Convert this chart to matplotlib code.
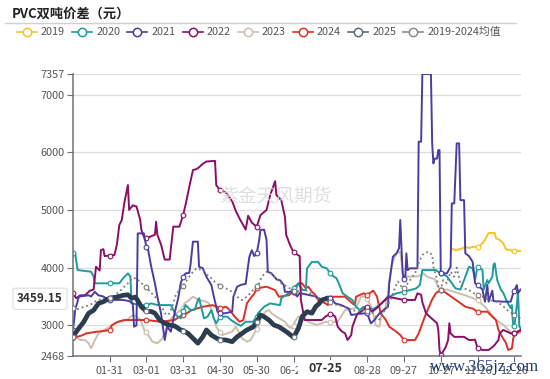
import numpy as np
import pandas as pd
import matplotlib.pyplot as plt
from matplotlib.lines import Line2D
from matplotlib.patches import Rectangle

plt.rcParams['font.family'] = ['Noto Sans CJK SC', 'DejaVu Sans']

# category axis: one slot per calendar day (leap year, 366 slots)
categories = pd.date_range('2024-01-01', '2024-12-31').strftime('%m-%d').tolist()

# values, (day index, value)
days_2019 = [309, 312, 317, 320, 323, 326, 330, 333, 336, 338, 339, 344, 345, 348, 351, 353, 357, 360, 365]
vals_2019 = [4330, 4300, 4330, 4360, 4340, 4360, 4362, 4400, 4478, 4565, 4600, 4600, 4510, 4480, 4420, 4320, 4300, 4290, 4290]

days_2020 = [0, 2, 3, 4, 15, 17, 18, 30, 38, 41, 45, 47, 48, 56, 60, 64, 69, 80, 84, 88, 90, 92, 96, 99, 100, 102,
             103, 106, 107, 110, 113, 115, 117, 120, 126, 129, 133, 137, 141, 147, 150, 151, 156, 161, 169, 170, 176,
             180, 181, 184, 187, 190, 191, 195, 200, 203, 207, 210, 211, 215, 218, 220, 224, 228, 231, 234, 237, 240,
             245, 250, 258, 264, 270, 280, 283, 285, 296, 300, 305, 308, 312, 316, 319, 323, 326, 328, 330, 334, 335,
             338, 339, 342, 343, 344, 346, 349, 351, 354, 357, 358, 359, 360, 362, 363, 364, 365]
vals_2020 = [4248, 4248, 4100, 3958, 3929, 3850, 3728, 3728, 3728, 3815, 3900, 3850, 3380, 3350, 3352, 3380, 3352,
             3350, 3180, 3120, 3250, 3352, 3265, 3265, 3300, 3438, 3470, 3208, 3120, 3150, 3265, 3120, 3035, 3150,
             3150, 3092, 3035, 2990, 3062, 3062, 3150, 3208, 3322, 3380, 3350, 3470, 3555, 3640, 3670, 3728, 3611,
             3611, 3988, 4100, 4100, 4015, 3988, 3900, 3872, 3815, 3670, 3555, 3496, 3438, 3322, 3265, 3322, 3300,
             3280, 3350, 3495, 3555, 3582, 3640, 3700, 3958, 3958, 3900, 3850, 3760, 3640, 3620, 3785, 4015, 3990,
             3800, 4015, 3960, 3620, 3785, 3730, 3840, 4050, 4074, 3785, 3620, 3560, 3409, 3300, 3350, 3005, 2980,
             3350, 3600, 2980, 2950]

days_2021 = [0, 1, 2, 5, 9, 13, 15, 18, 21, 25, 29, 30, 41, 46, 49, 50, 52, 53, 58, 60, 61, 64, 67, 69, 72, 75, 77,
             80, 83, 86, 88, 90, 92, 95, 96, 98, 102, 103, 106, 109, 113, 115, 118, 120, 124, 130, 131, 134, 137, 141,
             144, 146, 148, 150, 152, 153, 156, 158, 159, 162, 166, 169, 172, 173, 179, 180, 183, 185, 198, 203, 208,
             210, 214, 219, 225, 227, 234, 240, 243, 246, 250, 257, 258, 261, 264, 266, 267, 268, 269, 270, 271, 272,
             273, 275, 281, 282, 284, 285, 292, 293, 294, 295, 297, 298, 299, 300, 305, 308, 309, 311, 313, 315, 316,
             319, 320, 323, 326, 328, 330, 334, 336, 338, 339, 342, 343, 351, 357, 359, 360, 362, 363, 365]
vals_2021 = [2920, 3050, 3265, 3496, 3510, 3520, 3500, 3580, 3520, 3500, 3440, 3440, 3440, 3420, 3380, 2976, 3000,
             4594, 4594, 4362, 4362, 4015, 3728, 3496, 3208, 2745, 2980, 2890, 3208, 3470, 3728, 3842, 3900, 3910,
             4045, 4450, 4450, 4015, 3990, 3840, 3700, 3500, 3236, 3208, 3208, 3236, 3496, 3669, 3700, 3720, 4189,
             4300, 4200, 4248, 4478, 4652, 4660, 4480, 3929, 3900, 3800, 3780, 3700, 3580, 3580, 3570, 3500, 3560,
             3500, 3440, 3500, 3480, 3380, 3350, 3290, 3180, 3200, 3210, 3035, 3092, 3208, 3323, 3728, 4190, 4250,
             4335, 4825, 4335, 3900, 3800, 3785, 4248, 3958, 3988, 3988, 6183, 6183, 7357, 7357, 6154, 5807, 5890,
             5890, 6038, 6038, 3900, 3900, 4015, 5114, 5114, 6154, 6154, 5170, 5170, 4248, 4200, 4100, 3728, 3700,
             3620, 3409, 3700, 3409, 3600, 3420, 3410, 3410, 3555, 3600, 3698, 3560, 3620]

days_2022 = [0, 3, 6, 10, 14, 17, 19, 22, 23, 25, 26, 30, 34, 36, 38, 40, 42, 45, 46, 49, 52, 55, 56, 58, 60, 67,
             68, 69, 72, 75, 79, 82, 87, 90, 92, 95, 98, 101, 103, 106, 109, 116, 117, 120, 125, 130, 133, 136, 141,
             143, 146, 150, 153, 158, 161, 165, 166, 170, 173, 174, 177, 180, 185, 186, 189, 203, 206, 210, 211, 214,
             216, 219, 222, 224, 227, 228, 230, 232, 235, 238, 240, 244, 248, 257, 270, 279, 281, 284, 285, 288, 294,
             297, 298, 299, 300, 304, 306, 307, 308, 311, 319, 323, 328, 330, 334, 339, 342, 344, 347, 348, 351, 357,
             360, 365]
vals_2022 = [3555, 3470, 3520, 3520, 3600, 3620, 4015, 3950, 4305, 4320, 4200, 4210, 4220, 4400, 4740, 4825, 5114,
             5432, 5000, 5080, 5060, 4830, 4652, 4535, 4510, 4570, 4795, 4570, 4400, 4140, 4140, 4710, 4710, 4912,
             5090, 5400, 5690, 5710, 5740, 5800, 5840, 5850, 5430, 5345, 5300, 5150, 4980, 4850, 4660, 4900, 4780,
             4710, 4910, 5000, 5260, 5500, 5260, 5170, 4880, 4570, 4400, 4265, 4200, 3440, 3092, 3092, 3150, 3200,
             3200, 3150, 2976, 2900, 2860, 2745, 2830, 2976, 3092, 3200, 3236, 3290, 3320, 3236, 3300, 3496, 3440,
             3440, 3555, 3530, 3400, 3208, 3092, 3035, 2920, 2573, 2480, 2620, 2745, 3035, 2860, 2800, 2800, 2745,
             2750, 2600, 2573, 2573, 2620, 2660, 2745, 2860, 2920, 2860, 2860, 2920]

days_2023 = [0, 3, 6, 10, 13, 15, 18, 21, 28, 30, 36, 44, 49, 52, 55, 59, 60, 65, 69, 72, 75, 78, 83, 88, 90, 91,
             95, 98, 103, 109, 111, 114, 117, 120, 122, 130, 133, 136, 138, 142, 145, 148, 150, 151, 154, 157, 160,
             162, 166, 173, 176, 179, 180, 181, 184, 187, 192, 199, 206, 210, 216, 222, 231, 235, 239, 240, 244, 247,
             250, 252, 255, 257, 258, 260, 262, 264, 267, 268, 269, 270, 282, 286, 289, 295, 298, 300, 305, 320, 330,
             336, 341, 345, 351, 358, 360, 365]
vals_2023 = [2890, 2800, 2745, 2745, 2690, 2600, 2740, 2860, 2948, 2960, 3062, 3090, 3180, 3150, 3100, 2890, 2880,
             2716, 2690, 2745, 2860, 3062, 3180, 3265, 3300, 3380, 3438, 3496, 3440, 3410, 3380, 3208, 2976, 2880,
             2832, 2890, 2976, 2860, 2775, 2716, 2745, 2860, 2940, 2976, 3150, 3236, 3265, 3208, 3150, 3062, 2976,
             2948, 2990, 3062, 3150, 3150, 3060, 3005, 3060, 3060, 3060, 3265, 3300, 3496, 3496, 3450, 3300, 3000,
             2976, 3208, 3320, 3555, 3756, 4045, 4160, 4250, 4275, 4100, 3900, 3842, 3850, 3900, 3840, 3800, 3670,
             3611, 3620, 3520, 3440, 3322, 3200, 3092, 3010, 2860, 2860, 2860]

days_2024 = [0, 1, 3, 7, 11, 20, 25, 30, 32, 37, 42, 60, 72, 83, 87, 90, 93, 97, 106, 114, 120, 125, 128, 132, 136,
             139, 142, 145, 148, 150, 158, 165, 168, 176, 180, 181, 184, 187, 190, 192, 195, 198, 200, 206, 208, 210,
             211, 222, 225, 228, 230, 231, 237, 240, 245, 248, 251, 255, 258, 263, 267, 270, 279, 282, 284, 287, 290,
             293, 296, 300, 305, 315, 320, 326, 330, 338, 342, 345, 347, 350, 353, 355, 358, 359, 360, 365]
vals_2024 = [2800, 2745, 2800, 2820, 2860, 2890, 2900, 2920, 3005, 3060, 3092, 3092, 3062, 3092, 3150, 3180, 3208,
             3265, 3322, 3350, 3300, 3322, 3265, 3150, 3062, 3090, 3380, 3470, 3550, 3640, 3670, 3610, 3496, 3520,
             3580, 3611, 3728, 3728, 3640, 3670, 3582, 3520, 3438, 3380, 3350, 3470, 3496, 3496, 3438, 3380, 3350,
             3496, 3555, 3530, 3600, 3500, 3210, 3100, 2976, 2900, 2832, 2745, 2745, 2860, 2976, 3150, 3300, 3450,
             3555, 3620, 3550, 3400, 3322, 3290, 3236, 3236, 3150, 3092, 2920, 2800, 2700, 2573, 2600, 2760, 2860,
             2900]

days_2025 = [0, 4, 9, 13, 17, 21, 25, 30, 36, 41, 45, 48, 51, 53, 56, 60, 64, 67, 71, 75, 79, 83, 88, 90, 94, 98,
             102, 106, 109, 113, 117, 120, 125, 130, 134, 138, 142, 147, 150, 153, 156, 160, 164, 168, 172, 176, 180,
             184, 187, 191, 195, 198, 201, 203, 206]
vals_2025 = [2800, 2920, 3060, 3210, 3260, 3380, 3410, 3470, 3490, 3520, 3530, 3470, 3490, 3430, 3320, 3240, 3240,
             3210, 3090, 3035, 3005, 2990, 2920, 2910, 2860, 2775, 2690, 2800, 2920, 2830, 2780, 2750, 2745, 2716,
             2800, 2860, 2920, 2970, 3060, 3180, 3150, 3090, 3005, 2975, 2920, 2860, 2790, 2948, 3150, 3236, 3210,
             3322, 3380, 3438, 3459.15]

days_avg = [0, 3, 9, 14, 20, 28, 30, 33, 38, 42, 45, 48, 52, 56, 60, 63, 67, 71, 74, 76, 79, 82, 84, 88, 90, 93, 97,
            101, 105, 110, 113, 117, 120, 125, 130, 134, 138, 142, 147, 150, 152, 154, 158, 162, 167, 170, 175, 179,
            180, 183, 187, 192, 198, 203, 210, 211, 221, 232, 236, 240, 245, 250, 256, 259, 263, 265, 268, 270, 275,
            279, 283, 286, 290, 293, 294, 297, 298, 300, 302, 305, 308, 311, 313, 316, 319, 323, 327, 330, 334, 339,
            345, 350, 354, 358, 360, 362, 365]
vals_avg = [3294, 3270, 3320, 3350, 3438, 3470, 3480, 3500, 3582, 3669, 3728, 3815, 3815, 3728, 3670, 3580, 3500,
            3350, 3265, 3180, 3208, 3380, 3530, 3640, 3690, 3780, 3900, 3988, 3960, 3870, 3815, 3728, 3690, 3640,
            3580, 3496, 3438, 3496, 3610, 3680, 3728, 3840, 3929, 3900, 3785, 3728, 3669, 3610, 3600, 3582, 3640,
            3582, 3496, 3440, 3400, 3380, 3322, 3236, 3265, 3240, 3208, 3100, 3320, 3440, 3670, 3760, 3670, 3640,
            3785, 3900, 4132, 4248, 4275, 4220, 4015, 3785, 3670, 3611, 3785, 3728, 3929, 3842, 4000, 3728, 3640,
            3610, 3555, 3520, 3496, 3440, 3410, 3350, 3265, 3210, 3180, 3150, 3120]

pointer_day = 206          # 07-25
pointer_value = 3459.15
y_ticks = [2468, 3000, 4000, 5000, 6000, 7000, 7357]

series = [
    ('2019', days_2019, vals_2019, '#F7C325', 1.4, '-'),
    ('2020', days_2020, vals_2020, '#1E9B9B', 1.4, '-'),
    ('2021', days_2021, vals_2021, '#4B3DA0', 1.4, '-'),
    ('2022', days_2022, vals_2022, '#8A0F66', 1.4, '-'),
    ('2023', days_2023, vals_2023, '#CDBFAE', 1.4, '-'),
    ('2024', days_2024, vals_2024, '#DD3026', 1.4, '-'),
    ('2025', days_2025, vals_2025, '#2C3E4E', 3.4, '-'),
    ('2019-2024均值', days_avg, vals_avg, '#7A7A7A', 1.3, ':'),
]

W, H = 550, 379
fig = plt.figure(figsize=(W / 100, H / 100), dpi=100)
ax = fig.add_axes([72.7 / W, 23 / H, 447.8 / W, 282 / H])

order = [4, 5, 1, 0, 3, 2, 7, 6]
for k, i in enumerate(order):
    name, d, v, c, lw, ls = series[i]
    marks = [j for j, day in enumerate(d) if day % 30 == 0]
    ax.plot(d, v, color=c, lw=lw, ls=ls, marker='o', markevery=marks,
            mfc='white', mec=c if i != 6 else '#6F7C88', ms=3.4, mew=0.8,
            solid_joinstyle='round', zorder=2 + k * 0.1)

ax.set_xlim(0, 365)
ax.set_ylim(y_ticks[0], y_ticks[-1])
ax.set_yticks(y_ticks)
ax.set_yticklabels([str(t) for t in y_ticks])
tick_idx = list(range(30, 366, 30))
ax.set_xticks(tick_idx)
ax.set_xticklabels([categories[i] for i in tick_idx])

ax.yaxis.grid(True, color='#DDDDDD', lw=0.9)
ax.set_axisbelow(True)
for s in ['top', 'right']:
    ax.spines[s].set_visible(False)
for s in ['left', 'bottom']:
    ax.spines[s].set_color('#6E7079')
    ax.spines[s].set_linewidth(1.1)
ax.tick_params(axis='y', length=4, color='#6E7079', labelcolor='#555555', labelsize=7.8, pad=2)
ax.tick_params(axis='x', length=4, color='#6E7079', labelcolor='#555555', labelsize=7.8, pad=3)

# watermark
fig.text(275 / W, 1 - 197 / H, '紫金天风期货', fontsize=13.5, color='#D9D9D9', alpha=0.85,
         ha='center', va='center')

# axis pointer labels: the x one sits on a white plate that hides the ticks below it
px = 72.7 + pointer_day / 365 * 447.8
fig.add_artist(Rectangle(((px - 27) / W, 1 - 377 / H), 54 / W, 17 / H, transform=fig.transFigure,
                         fc='white', ec='none', zorder=2.5))
fig.text(px / W, 1 - 368 / H, categories[pointer_day],
         fontsize=9, fontweight='bold', color='#333333', ha='center', va='center', zorder=3)
yfrac = (pointer_value - y_ticks[0]) / (y_ticks[-1] - y_ticks[0])
fig.text(40 / W, (23 + yfrac * 282) / H, f'{pointer_value:.2f}', fontsize=8.5, fontweight='bold',
         color='#333333', ha='center', va='center',
         bbox=dict(boxstyle='round,pad=0.35,rounding_size=0.2', fc='white', ec='#DDDDDD', lw=0.8))

# title and legend
fig.text(12 / W, 1 - 14 / H, 'PVC双吨价差（元）', fontsize=9.5, fontweight='bold', color='#222222',
         ha='left', va='center')
fig.add_artist(Line2D([5 / W, 516 / W], [1 - 22.7 / H, 1 - 22.7 / H], color='#D0D0D0', lw=1))
for i, (name, d, v, c, lw, ls) in enumerate(series):
    x0 = 17 + 55.2 * i
    yy = 1 - 32 / H
    lc = c if i != 6 else '#5D6B78'
    if i == 7:
        lc = '#8A8A8A'
    fig.add_artist(Line2D([x0 / W, (x0 + 20) / W], [yy, yy], color=lc, lw=1.2))
    fig.add_artist(Line2D([(x0 + 10) / W], [yy], marker='o', ms=6, mfc='white', mec=lc, mew=1.1))
    fig.text((x0 + 24) / W, yy, name, fontsize=7.8, color='#555555', ha='left', va='center')

# site stamp in the corner
fig.text(485 / W, 1 - 367 / H, 'www.365jz.com', fontsize=12, color='#1F3A6E',
         family='Liberation Serif', ha='center', va='center')

fig.savefig('out.png', dpi=100)
